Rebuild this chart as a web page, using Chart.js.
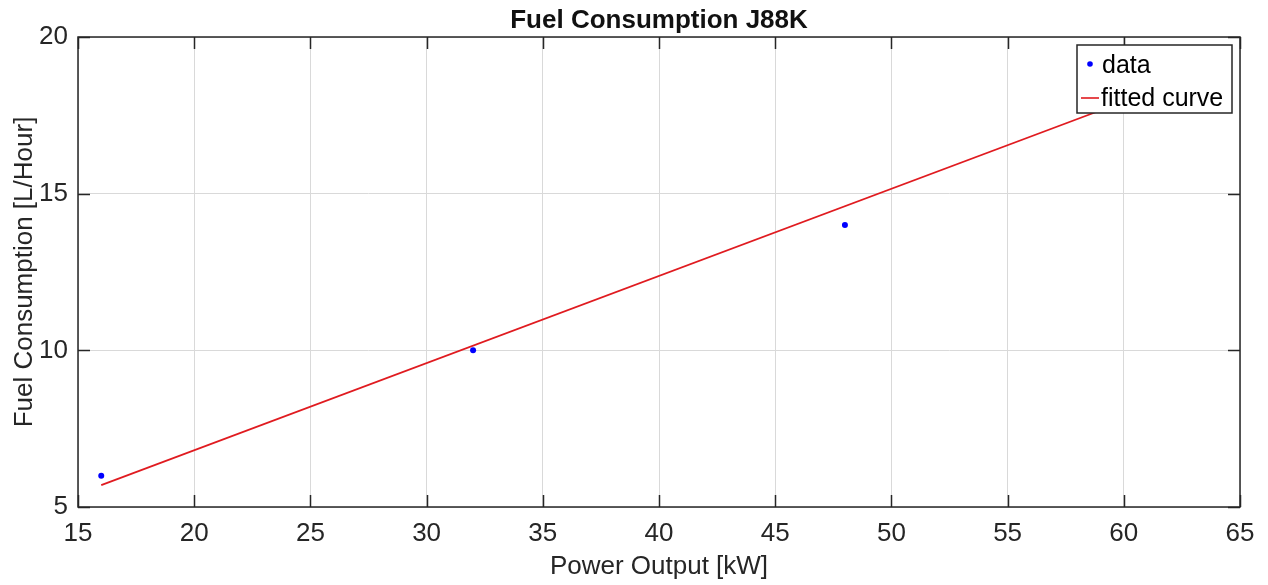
<!DOCTYPE html>
<html>
<head>
<meta charset="utf-8">
<title>Fuel Consumption J88K</title>
<script src="https://cdn.jsdelivr.net/npm/chart.js@4/dist/chart.umd.min.js"></script>
<style>
  html, body { margin: 0; padding: 0; background: #fff; }
  #wrap { width: 1268px; height: 585px; }
</style>
</head>
<body>
<div id="wrap"><canvas id="grafico" width="1268" height="585"></canvas></div>
<script>
// measured points
const powerKW = [16, 32, 48];
const fuelLH = [6, 10, 14];

// linear fit, evaluated at the ends of the range
const fitKW = [16, 64];
const fitLH = [5.70, 19.05];

const xTicks = [15, 20, 25, 30, 35, 40, 45, 50, 55, 60, 65];
const yTicks = [5, 10, 15, 20];

const FONT = "'Liberation Sans', Arial, sans-serif";
const INK = '#262626';

// MATLAB style box: ticks pointing inward on all four sides, title, boxed legend
const caixaPlugin = {
  id: 'caixa',
  afterDatasetsDraw(chart) {
    const { ctx, chartArea: a, scales: { x, y } } = chart;
    const len = 12;
    ctx.save();
    ctx.strokeStyle = INK;
    ctx.lineWidth = 1.5;
    ctx.beginPath();
    xTicks.forEach(v => {
      const px = Math.round(x.getPixelForValue(v)) + 0.5;
      ctx.moveTo(px, a.bottom); ctx.lineTo(px, a.bottom - len);
      ctx.moveTo(px, a.top); ctx.lineTo(px, a.top + len);
    });
    yTicks.forEach(v => {
      const py = Math.round(y.getPixelForValue(v)) + 0.5;
      ctx.moveTo(a.left, py); ctx.lineTo(a.left + len, py);
      ctx.moveTo(a.right, py); ctx.lineTo(a.right - len, py);
    });
    ctx.stroke();
    ctx.strokeRect(a.left, a.top, a.right - a.left, a.bottom - a.top);

    // title
    ctx.fillStyle = '#111';
    ctx.font = 'bold 26px ' + FONT;
    ctx.textAlign = 'center';
    ctx.textBaseline = 'middle';
    ctx.fillText('Fuel Consumption J88K', (a.left + a.right) / 2, 21);

    // legend
    const lx = 1077, ly = 45, lw = 155, lh = 68;
    ctx.fillStyle = '#fff';
    ctx.fillRect(lx, ly, lw, lh);
    ctx.strokeStyle = INK;
    ctx.lineWidth = 1.5;
    ctx.strokeRect(lx, ly, lw, lh);

    const [dsData, dsFit] = chart.data.datasets;
    ctx.font = '25px ' + FONT;
    ctx.textAlign = 'left';
    ctx.fillStyle = dsData.backgroundColor;
    ctx.beginPath();
    ctx.arc(1090, 64, 2.8, 0, Math.PI * 2);
    ctx.fill();
    ctx.fillStyle = '#000';
    ctx.fillText(dsData.label, 1102, 66);

    ctx.strokeStyle = dsFit.borderColor;
    ctx.lineWidth = 1.6;
    ctx.beginPath();
    ctx.moveTo(1081, 98); ctx.lineTo(1099, 98);
    ctx.stroke();
    ctx.fillStyle = '#000';
    ctx.fillText(dsFit.label, 1101, 99);
    ctx.restore();
  }
};

new Chart(document.getElementById('grafico'), {
  type: 'scatter',
  data: {
    datasets: [
      {
        label: 'data',
        data: powerKW.map((v, i) => ({ x: v, y: fuelLH[i] })),
        backgroundColor: '#0000ff',
        borderColor: '#0000ff',
        pointRadius: 3,
        pointBorderWidth: 0
      },
      {
        label: 'fitted curve',
        data: fitKW.map((v, i) => ({ x: v, y: fitLH[i] })),
        showLine: true,
        borderColor: '#e01b20',
        borderWidth: 1.8,
        pointRadius: 0
      }
    ]
  },
  options: {
    responsive: false,
    animation: false,
    devicePixelRatio: 1,
    layout: { padding: { top: 37, right: 28, left: 0, bottom: 0 } },
    plugins: {
      legend: { display: false },
      title: { display: false },
      tooltip: { enabled: false }
    },
    scales: {
      x: {
        type: 'linear',
        min: 15,
        max: 65,
        afterFit: s => { s.height = 78; },
        afterBuildTicks: s => { s.ticks = xTicks.map(v => ({ value: v })); },
        grid: { color: '#d9d9d9', lineWidth: 1, drawTicks: false },
        border: { display: false },
        ticks: { color: INK, padding: 11, font: { family: FONT, size: 26 } },
        title: {
          display: true,
          text: 'Power Output [kW]',
          color: INK,
          font: { family: FONT, size: 26 },
          padding: { bottom: 3 }
        }
      },
      y: {
        type: 'linear',
        min: 5,
        max: 20,
        afterFit: s => { s.width = 78; },
        afterBuildTicks: s => { s.ticks = yTicks.map(v => ({ value: v })); },
        grid: { color: '#d9d9d9', lineWidth: 1, drawTicks: false },
        border: { display: false },
        ticks: { color: INK, padding: 10, font: { family: FONT, size: 26 } },
        title: {
          display: true,
          text: 'Fuel Consumption [L/Hour]',
          color: INK,
          font: { family: FONT, size: 26 },
          padding: { top: 9 }
        }
      }
    }
  },
  plugins: [caixaPlugin]
});
</script>
</body>
</html>
